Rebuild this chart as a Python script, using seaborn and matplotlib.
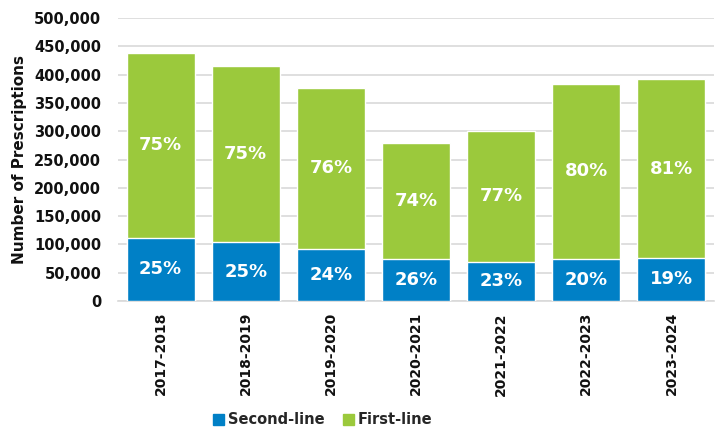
import matplotlib
matplotlib.use("Agg")
import matplotlib.pyplot as plt
import seaborn as sns
import pandas as pd
from matplotlib.patches import Patch
from matplotlib.ticker import FuncFormatter

years = ["2017-2018", "2018-2019", "2019-2020", "2020-2021", "2021-2022", "2022-2023", "2023-2024"]
second_line = [112000, 104000, 92000, 74000, 69000, 75000, 76000]
first_line = [326000, 312000, 285000, 206000, 232000, 308000, 316000]
second_pct = ["25%", "25%", "24%", "26%", "23%", "20%", "19%"]
first_pct = ["75%", "75%", "76%", "74%", "77%", "80%", "81%"]

BLUE = "#0080C6"
GREEN = "#9BC93C"

sns.set_theme(style="white")
plt.rcParams['font.family'] = ['DejaVu Sans']

df = pd.DataFrame({"year": years, "second": second_line, "first": first_line})
df["total"] = df["second"] + df["first"]

fig = plt.figure(figsize=(7.19, 4.30), dpi=100)
ax = fig.add_axes([118/719, 1 - 301/430, (714-118)/719, (301-18)/430])

sns.barplot(data=df, x="year", y="total", color=GREEN, width=0.8, ax=ax, saturation=1, zorder=3)
sns.barplot(data=df, x="year", y="second", color=BLUE, width=0.8, ax=ax, saturation=1, zorder=3)

for i in range(len(years)):
    s = second_line[i]
    f = first_line[i]
    ax.text(i, s / 2, second_pct[i], ha="center", va="center", color="white",
            fontsize=13, fontweight="bold", zorder=5)
    ax.text(i, s + f / 2, first_pct[i], ha="center", va="center", color="white",
            fontsize=13, fontweight="bold", zorder=5)

ax.set_ylim(0, 500000)
ax.set_xlim(-0.5, len(years) - 0.5)
ax.set_yticks(range(0, 500001, 50000))
ax.yaxis.set_major_formatter(FuncFormatter(lambda v, p: f"{int(v):,}"))
ax.grid(axis="y", color="#d9d9d9", linewidth=1.2, zorder=0)
ax.set_axisbelow(True)
for sp in ["top", "right", "left"]:
    ax.spines[sp].set_visible(False)
ax.spines["bottom"].set_color("#d9d9d9")
ax.spines["bottom"].set_linewidth(1.2)

ax.set_xlabel("")
ax.set_ylabel("Number of Prescriptions", fontsize=11, fontweight="bold", color="#111111", labelpad=5)
ax.tick_params(axis="y", labelsize=10.5, length=0, pad=12, colors="#111111")
ax.tick_params(axis="x", labelsize=10, length=0, pad=8, colors="#111111")
for lab in ax.get_yticklabels():
    lab.set_fontweight("bold")
for lab in ax.get_xticklabels():
    lab.set_fontweight("bold")
    lab.set_rotation(90)

handles = [Patch(color=BLUE, label="Second-line"), Patch(color=GREEN, label="First-line")]
fig.legend(handles=handles, loc="center", bbox_to_anchor=(323/719, 1 - 420/430), ncol=2,
           frameon=False, prop={"weight": "bold", "size": 10.5}, handlelength=0.7, handleheight=0.7,
           handletextpad=0.3, columnspacing=1.3)

fig.savefig("out.png", dpi=100)
